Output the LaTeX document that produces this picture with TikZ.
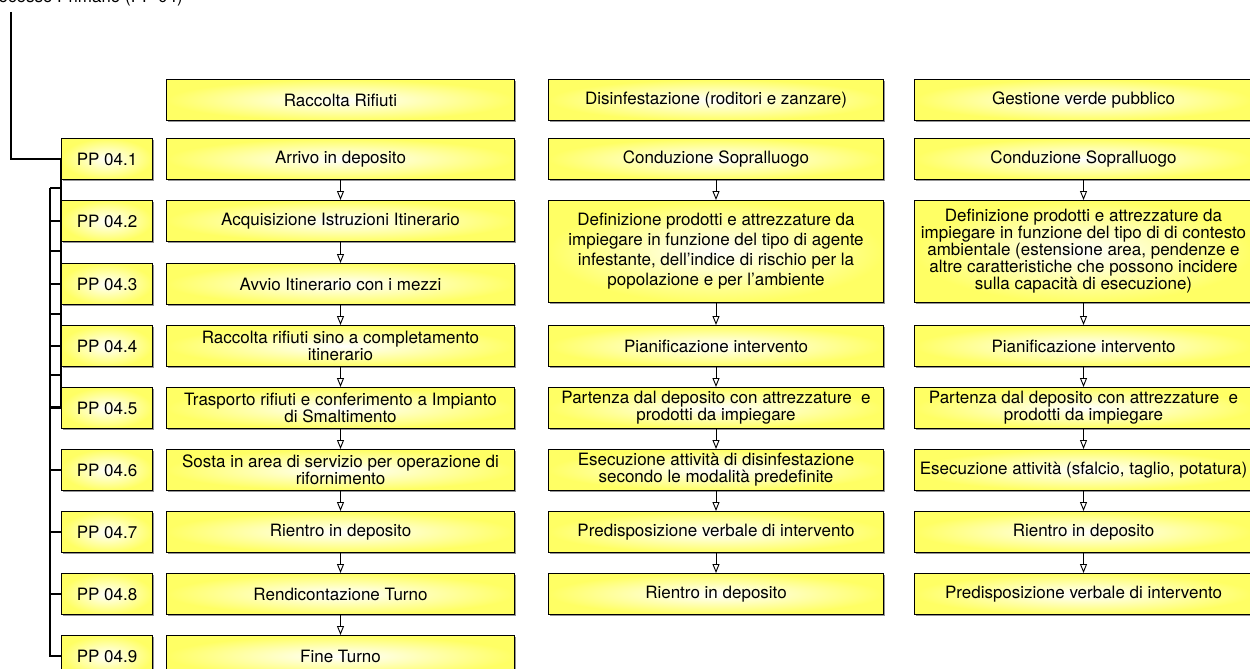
\documentclass[tikz,border=0pt]{standalone}
\usepackage{fontspec}
\setmainfont{TeX Gyre Heros}
\usetikzlibrary{arrows.meta, shadows}
\definecolor{boxyellow}{RGB}{255,255,100}
\tikzstyle{item} = [rectangle, anchor=north west, inner sep=0pt, align=center, draw=black, line width=1pt, inner color=white, outer color=boxyellow, drop shadow={shadow xshift=1.2pt, shadow yshift=-1.2pt, opacity=0.6, fill=black!70}, minimum height=41pt, font=\fontsize{17}{17}\selectfont]
\tikzstyle{pp} = [minimum width=91pt]
\tikzstyle{colr} = [minimum width=348pt]
\tikzstyle{cold} = [minimum width=335pt]
\tikzstyle{colg} = [minimum width=338pt]
\tikzstyle{arrow} = [line width=0.9pt, -{Triangle[open, width=7pt, length=9pt]}]
\tikzstyle{link} = [line width=1.4pt]

\begin{document}
\begin{tikzpicture}[x=1pt,y=-1pt]
\useasboundingbox (0,0) rectangle (1250,669);
\node(title)[anchor=base east, inner sep=0pt, font=\fontsize{17}{17}\selectfont] at (183,3) {Processo Primario (PP 04)};

% sub processi
\node(pp1)[item, pp] at (61,138) {PP 04.1};
\node(pp2)[item, pp] at (61,200) {PP 04.2};
\node(pp3)[item, pp] at (61,263) {PP 04.3};
\node(pp4)[item, pp] at (61,325) {PP 04.4};
\node(pp5)[item, pp] at (61,387) {PP 04.5};
\node(pp6)[item, pp] at (61,449) {PP 04.6};
\node(pp7)[item, pp] at (61,511) {PP 04.7};
\node(pp8)[item, pp] at (61,573) {PP 04.8};
\node(pp9)[item, pp] at (61,635) {PP 04.9};

% collegamenti
\coordinate(root) at (11,12);
\coordinate(trunk) at (61,407);
\coordinate(rail) at (50,188);
\draw[link, line width=1.8pt] (root) |- (pp1.west);
\draw[link, line width=2.4pt] (pp1.west) -- (trunk);
\draw[link] (rail) |- (pp9.west);
\foreach \y in {188,251,314,375}
  \draw[link] (50,\y) -- (61,\y);
\foreach \n in {2,...,8}
  \draw[link] (pp\n.west) -- ++(-11,0);
\draw[link, line width=2.4pt] (trunk) -- ++(-11,0);

% raccolta rifiuti
\node(rr0)[item, colr] at (166,79) {Raccolta Rifiuti};
\node(rr1)[item, colr] at (166,138) {Arrivo in deposito};
\node(rr2)[item, colr] at (166,200) {Acquisizione Istruzioni Itinerario};
\draw[arrow] (rr1) -- (rr2);
\node(rr3)[item, colr] at (166,263) {Avvio Itinerario con i mezzi};
\draw[arrow] (rr2) -- (rr3);
\node(rr4)[item, colr] at (166,325) {Raccolta rifiuti sino a completamento\\itinerario};
\draw[arrow] (rr3) -- (rr4);
\node(rr5)[item, colr] at (166,387) {Trasporto rifiuti e conferimento a Impianto\\di Smaltimento};
\draw[arrow] (rr4) -- (rr5);
\node(rr6)[item, colr] at (166,449) {Sosta in area di servizio per operazione di\\rifornimento};
\draw[arrow] (rr5) -- (rr6);
\node(rr7)[item, colr] at (166,511) {Rientro in deposito};
\draw[arrow] (rr6) -- (rr7);
\node(rr8)[item, colr] at (166,573) {Rendicontazione Turno};
\draw[arrow] (rr7) -- (rr8);
\node(rr9)[item, colr] at (166,635) {Fine Turno};
\draw[arrow] (rr8) -- (rr9);

% disinfestazione
\node(ds0)[item, cold] at (548,79) {Disinfestazione (roditori e zanzare)};
\node(ds1)[item, cold] at (548,138) {Conduzione Sopralluogo};
\node(ds2)[item, cold, minimum height=102pt, font=\fontsize{17}{20}\selectfont] at (548,200) {Definizione prodotti e attrezzature da\\impiegare in funzione del tipo di agente\\infestante, dell'indice di rischio per la\\popolazione e per l'ambiente};
\draw[arrow] (ds1) -- (ds2);
\node(ds3)[item, cold] at (548,325) {Pianificazione intervento};
\draw[arrow] (ds2) -- (ds3);
\node(ds4)[item, cold] at (548,387) {Partenza dal deposito con attrezzature~ e\\prodotti da impiegare};
\draw[arrow] (ds3) -- (ds4);
\node(ds5)[item, cold] at (548,449) {Esecuzione attività di disinfestazione\\secondo le modalità predefinite};
\draw[arrow] (ds4) -- (ds5);
\node(ds6)[item, cold] at (548,511) {Predisposizione verbale di intervento};
\draw[arrow] (ds5) -- (ds6);
\node(ds7)[item, cold] at (548,573) {Rientro in deposito};
\draw[arrow] (ds6) -- (ds7);

% verde pubblico
\node(gv0)[item, colg] at (914,79) {Gestione verde pubblico};
\node(gv1)[item, colg] at (914,138) {Conduzione Sopralluogo};
\node(gv2)[item, colg, minimum height=102pt, font=\fontsize{17}{17}\selectfont] at (914,200) {Definizione prodotti e attrezzature da\\impiegare in funzione del tipo di di contesto\\ambientale (estensione area, pendenze e\\altre caratteristiche che possono incidere\\sulla capacità di esecuzione)};
\draw[arrow] (gv1) -- (gv2);
\node(gv3)[item, colg] at (914,325) {Pianificazione intervento};
\draw[arrow] (gv2) -- (gv3);
\node(gv4)[item, colg] at (914,387) {Partenza dal deposito con attrezzature~ e\\prodotti da impiegare};
\draw[arrow] (gv3) -- (gv4);
\node(gv5)[item, colg] at (914,449) {Esecuzione attività (sfalcio, taglio, potatura)};
\draw[arrow] (gv4) -- (gv5);
\node(gv6)[item, colg] at (914,511) {Rientro in deposito};
\draw[arrow] (gv5) -- (gv6);
\node(gv7)[item, colg] at (914,573) {Predisposizione verbale di intervento};
\draw[arrow] (gv6) -- (gv7);
\end{tikzpicture}
\end{document}
